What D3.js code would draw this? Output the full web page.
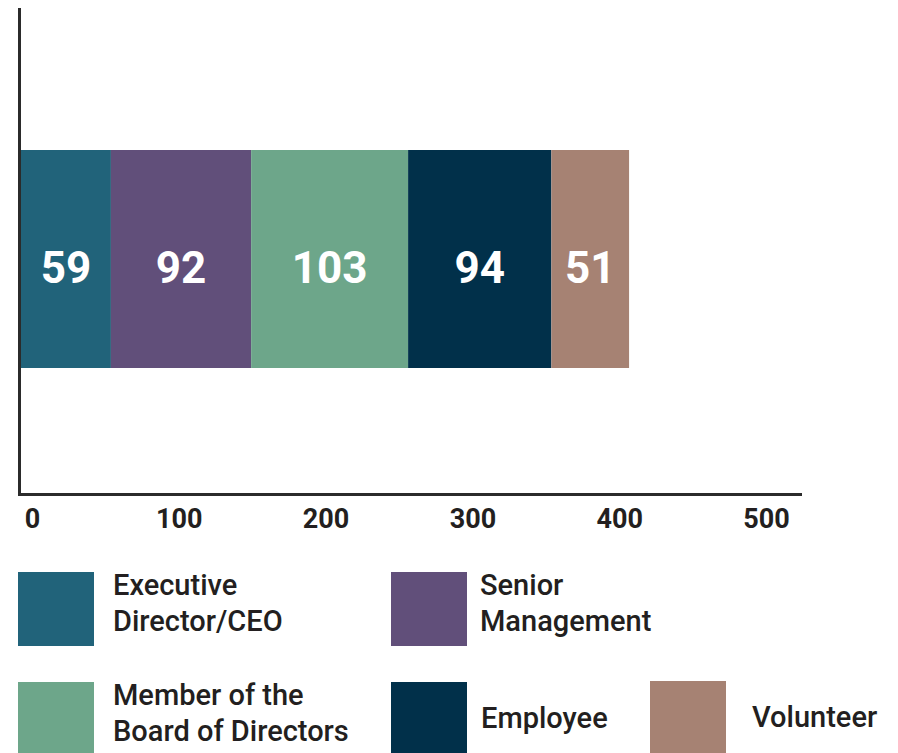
<!DOCTYPE html>
<html lang="en">
  <head>
    <meta charset="utf-8">
    <title>Stacked bar</title>
    <script src="https://d3js.org/d3.v7.min.js"></script>
    <style>
      body { margin: 0; background: #fff; }
      text { font-family: Roboto, "Noto Sans", sans-serif; }
    </style>
  </head>
  <body>
    <script type="text/javascript">

      var w = 898;
      var h = 753;

      // data
      var categories = ["Executive Director/CEO", "Senior Management", "Member of the Board of Directors", "Employee", "Volunteer"];
      var legendLines = [["Executive", "Director/CEO"], ["Senior", "Management"], ["Member of the", "Board of Directors"], ["Employee"], ["Volunteer"]];
      var values = [59, 92, 103, 94, 51];
      var colors = ["#21637a", "#614f7a", "#6da68a", "#01304a", "#a68273"];
      var tickValues = [0, 100, 200, 300, 400, 500];

      var svg = d3.select("body")
          .append("svg")
          .attr("width", w)
          .attr("height", h);

      svg.append("rect")
          .attr("width", w)
          .attr("height", h)
          .attr("fill", "white");

      var xScale = d3.scaleLinear()
          .domain([0, 500])
          .range([21, 783]);

      // tick labels sit on their own spacing in the original
      var tickScale = d3.scaleLinear()
          .domain([0, 500])
          .range([32, 766]);

      var yScale = d3.scaleBand()
          .domain(["all"])
          .range([150, 368]);

      // cumulative starts
      var stacked = [];
      var run = 0;
      values.forEach(function(v, i) {
        stacked.push({name: categories[i], value: v, x0: run, x1: run + v, color: colors[i]});
        run += v;
      });

      var bars = svg.append("g").attr("id", "bars");

      bars.selectAll("rect")
          .data(stacked)
          .enter().append("rect")
          .attr("x", function(d) { return xScale(d.x0) })
          .attr("y", yScale("all"))
          .attr("width", function(d) { return xScale(d.x1) - xScale(d.x0) })
          .attr("height", yScale.bandwidth())
          .attr("fill", function(d) { return d.color });

      bars.selectAll("text")
          .data(stacked)
          .enter().append("text")
          .attr("x", function(d) { return (xScale(d.x0) + xScale(d.x1)) / 2 })
          .attr("y", 283)
          .attr("text-anchor", "middle")
          .attr("fill", "white")
          .style("font-size", "44px")
          .style("font-weight", "700")
          .text(function(d) { return d.value });

// axes lines
      svg.append("line")
          .attr("x1", 19.5).attr("y1", 8)
          .attr("x2", 19.5).attr("y2", 496)
          .attr("stroke", "#2b2b2b")
          .attr("stroke-width", 3);

      svg.append("line")
          .attr("x1", 18).attr("y1", 494.5)
          .attr("x2", 802).attr("y2", 494.5)
          .attr("stroke", "#2b2b2b")
          .attr("stroke-width", 3);

      var xAxis = d3.axisBottom(tickScale)
          .tickValues(tickValues)
          .tickSize(0)
          .tickPadding(0);

      var axisG = svg.append("g")
          .attr("transform", "translate(0, 508)")
          .call(xAxis);

      axisG.select(".domain").remove();
      axisG.selectAll("text")
          .attr("dy", null)
          .attr("y", 20)
          .attr("fill", "#231f20")
          .style("font-family", "Roboto, sans-serif")
          .style("font-size", "27px")
          .style("font-weight", "700");

// legend
      var legendPos = [
        {x: 18, y: 572, tx: 113},
        {x: 391, y: 572, tx: 480},
        {x: 18, y: 682, tx: 113},
        {x: 391, y: 682, tx: 481},
        {x: 650, y: 681, tx: 752}
      ];
      var sw = 76, sh = 74, lineH = 35.5;

      var legend = svg.append("g").attr("id", "legend")
          .selectAll("g")
          .data(stacked)
          .enter().append("g");

      legend.append("rect")
          .attr("x", function(d, i) { return legendPos[i].x })
          .attr("y", function(d, i) { return legendPos[i].y })
          .attr("width", sw)
          .attr("height", sh)
          .attr("fill", function(d) { return d.color });

      legend.each(function(d, i) {
        var lines = legendLines[i];
        var cy = legendPos[i].y + sh / 2;
        var first = lines.length > 1 ? cy - 14 : cy + 9;
        var t = d3.select(this).append("text")
            .attr("fill", "#231f20")
            .style("font-size", "29px")
            .style("font-weight", "500");
        lines.forEach(function(s, k) {
          t.append("tspan")
              .attr("x", legendPos[i].tx)
              .attr("y", first + k * lineH)
              .text(s);
        });
      });

    </script>
  </body>
</html>
